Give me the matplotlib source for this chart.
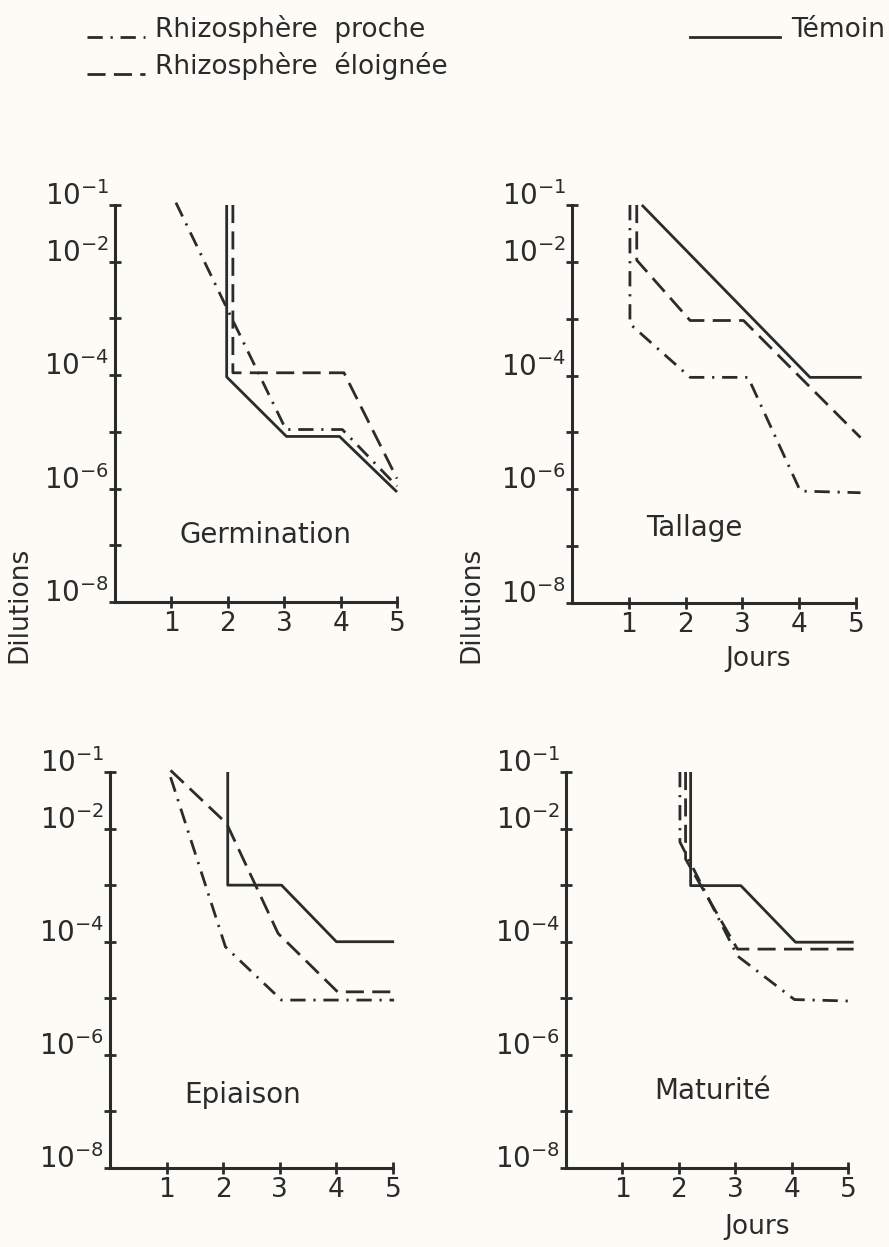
import matplotlib
matplotlib.use("Agg")
import matplotlib.pyplot as plt
from matplotlib.lines import Line2D
from matplotlib.ticker import NullLocator

W, H = 889, 1247
ink = '#2b2b2b'
paper = '#fcfbf6'

plt.rcParams['font.family'] = ['DejaVu Sans']

# ---- data ----
day_ticks = [1, 2, 3, 4, 5]
dil_ticks = [1e-1, 1e-2, 1e-3, 1e-4, 1e-5, 1e-6, 1e-7, 1e-8]
dil_labels_at = [1e-1, 1e-2, 1e-4, 1e-6, 1e-8]
dil_labels = [r'$\mathregular{10^{-1}}$', r'$\mathregular{10^{-2}}$',
              r'$\mathregular{10^{-4}}$', r'$\mathregular{10^{-6}}$',
              r'$\mathregular{10^{-8}}$']

# Germination
germ_proche_x = [1.08, 2.0, 3.03, 4.03, 5.0]
germ_proche_y = [1.1e-1, 1.4e-3, 1.1e-5, 1.1e-5, 1.1e-6]
germ_temoin_x = [1.98, 1.98, 3.04, 3.98, 5.0]
germ_temoin_y = [1e-1, 9.3e-5, 8.3e-6, 8.3e-6, 8.7e-7]
germ_eloig_x = [2.09, 2.09, 4.06, 5.0]
germ_eloig_y = [1e-1, 1.1e-4, 1.1e-4, 1.5e-6]

# Tallage
tall_proche_x = [1.02, 1.02, 2.08, 3.1, 4.02, 5.08]
tall_proche_y = [1e-1, 8.1e-4, 9.3e-5, 9.3e-5, 9.3e-7, 8.7e-7]
tall_temoin_x = [1.23, 4.19, 5.1]
tall_temoin_y = [1e-1, 9.3e-5, 9.3e-5]
tall_eloig_x = [1.14, 1.14, 2.08, 3.02, 5.08]
tall_eloig_y = [1e-1, 1.07e-2, 9.3e-4, 9.3e-4, 8.1e-6]

# Epiaison
epi_proche_x = [1.07, 2.04, 3.03, 5.02]
epi_proche_y = [8.1e-2, 8.1e-5, 9.3e-6, 9.3e-6]
epi_temoin_x = [2.08, 2.08, 3.03, 4.0, 5.02]
epi_temoin_y = [1e-1, 1e-3, 1e-3, 1e-4, 1e-4]
epi_eloig_x = [1.07, 2.06, 2.97, 4.02, 5.02]
epi_eloig_y = [1.07e-1, 1.23e-2, 1.4e-4, 1.3e-5, 1.3e-5]

# Maturite
mat_proche_x = [2.02, 2.02, 3.04, 4.05, 5.1]
mat_proche_y = [1e-1, 5.8e-3, 5.6e-5, 9.5e-6, 8.9e-6]
mat_temoin_x = [2.21, 2.21, 3.1, 4.07, 5.1]
mat_temoin_y = [1e-1, 9.8e-4, 9.8e-4, 9.8e-5, 9.8e-5]
mat_eloig_x = [2.12, 2.12, 3.04, 5.1]
mat_eloig_y = [1e-1, 2.9e-3, 7.4e-5, 7.4e-5]

# line styles
LW = 2.0
solid = dict(color=ink, lw=LW, ls='-')
dashed = dict(color=ink, lw=LW, dashes=(6.5, 3.0))
dashdot = dict(color=ink, lw=LW, dashes=(5.5, 2.8, 0.8, 2.8))


def px(x, y):
    return x / W, 1 - y / H


def make_panel(rect, name, name_xy, series):
    ax = fig.add_axes(rect)
    ax.set_facecolor('none')
    ax.set_yscale('log')
    ax.set_ylim(1e-8, 1e-1)
    ax.set_xlim(0, 5)
    for s in ['top', 'right']:
        ax.spines[s].set_visible(False)
    for s in ['left', 'bottom']:
        ax.spines[s].set_linewidth(2.2)
        ax.spines[s].set_color(ink)
    ax.set_yticks(dil_ticks)
    ax.set_yticklabels([])
    ax.yaxis.set_minor_locator(NullLocator())
    ax.set_xticks(day_ticks)
    ax.set_xticklabels([str(d) for d in day_ticks], fontsize=19, color=ink)
    ax.tick_params(direction='inout', length=9, width=2, color=ink)
    ax.tick_params(axis='x', pad=2)
    for v, lab in zip(dil_labels_at, dil_labels):
        ax.annotate(lab, xy=(0, v), xycoords=('axes fraction', 'data'),
                    xytext=(-4, 0), textcoords='offset points',
                    ha='right', va='baseline', fontsize=20, color=ink)
    for xs, ys, st in series:
        ax.plot(xs, ys, clip_on=False, solid_capstyle='butt',
                dash_capstyle='butt', **st)
    ax.text(name_xy[0], name_xy[1], name, ha='center', va='center',
            fontsize=20, color=ink)
    return ax


fig = plt.figure(figsize=(W / 100, H / 100), dpi=100, facecolor=paper)

make_panel([115 / W, 1 - 602 / H, 282 / W, 397 / H], 'Germination', (2.66, 1.5e-7),
           [(germ_proche_x, germ_proche_y, dashdot),
            (germ_temoin_x, germ_temoin_y, solid),
            (germ_eloig_x, germ_eloig_y, dashed)])
make_panel([572 / W, 1 - 603 / H, 284 / W, 398 / H], 'Tallage', (2.16, 2.1e-7),
           [(tall_proche_x, tall_proche_y, dashdot),
            (tall_temoin_x, tall_temoin_y, solid),
            (tall_eloig_x, tall_eloig_y, dashed)])
make_panel([110 / W, 1 - 1168 / H, 283 / W, 396 / H], 'Epiaison', (2.35, 1.95e-7),
           [(epi_proche_x, epi_proche_y, dashdot),
            (epi_temoin_x, epi_temoin_y, solid),
            (epi_eloig_x, epi_eloig_y, dashed)])
make_panel([566 / W, 1 - 1168 / H, 282 / W, 396 / H], 'Maturité', (2.59, 2.3e-7),
           [(mat_proche_x, mat_proche_y, dashdot),
            (mat_temoin_x, mat_temoin_y, solid),
            (mat_eloig_x, mat_eloig_y, dashed)])

# axis titles
for x in (19, 471):
    fig.text(*px(x, 605), 'Dilutions', rotation=90, ha='center', va='center',
             fontsize=19, color=ink)
fig.text(*px(758, 659), 'Jours', ha='center', va='center', fontsize=19, color=ink)
fig.text(*px(757, 1227), 'Jours', ha='center', va='center', fontsize=19, color=ink)

# legend drawn as in the original (samples + labels)
fig.add_artist(Line2D([87 / W, 145 / W], [px(0, 37)[1]] * 2, transform=fig.transFigure, **dashdot))
fig.text(*px(155, 37), 'Rhizosphère  proche', ha='left', va='baseline', fontsize=19, color=ink)
fig.add_artist(Line2D([690 / W, 780 / W], [px(0, 37)[1]] * 2, transform=fig.transFigure, **solid))
fig.text(*px(885, 37), 'Témoin', ha='right', va='baseline', fontsize=19, color=ink)
fig.add_artist(Line2D([87 / W, 145 / W], [px(0, 74)[1]] * 2, transform=fig.transFigure, **dashed))
fig.text(*px(155, 74), 'Rhizosphère  éloignée', ha='left', va='baseline', fontsize=19, color=ink)

fig.savefig('out.png', dpi=100, facecolor=paper)
